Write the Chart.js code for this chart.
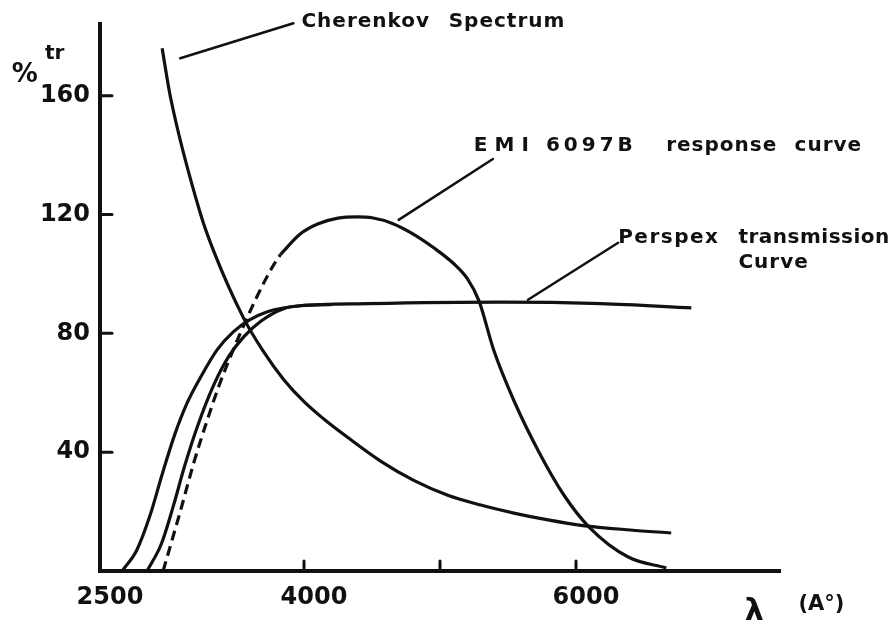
<!DOCTYPE html>
<html>
<head>
<meta charset="utf-8">
<script src="https://cdn.jsdelivr.net/npm/chart.js@4.4.1/dist/chart.umd.min.js"></script>
<style>
  html, body { margin: 0; padding: 0; background: #fff; }
  #wrap { width: 893px; height: 627px; }
</style>
</head>
<body>
<div id="wrap"><canvas id="chart"></canvas></div>
<script>
// wavelength (A) and percent values
const cherenkovX = [2957, 3016, 3237, 3333, 3554, 3700, 3850, 4000, 4150, 4320, 4563, 4807, 5057, 5300, 5543, 5794, 6050, 6400, 6700];
const cherenkovY = [176, 160, 120.5, 108, 85.3, 74, 64.5, 57, 51, 45, 37, 30.5, 25.5, 22.2, 19.5, 17.2, 15.3, 13.8, 12.8];

const perspexX = [2662, 2770, 2870, 2960, 3050, 3140, 3237, 3362, 3480, 3600, 3731, 3974, 4468, 5448, 6185, 6848];
const perspexY = [0, 7, 19, 33, 46, 56.5, 65, 74.5, 80.5, 84.5, 87.3, 89.3, 90, 90.5, 90, 88.6];

const innerX = [2846, 2950, 3040, 3120, 3215, 3340, 3450, 3560, 3680, 3849, 3974, 4200];
const innerY = [0, 9, 22, 35, 48.5, 63, 72.5, 79, 84, 88.3, 89.3, 89.7];

const emiDashX = [2964, 3090, 3190, 3290, 3380, 3480, 3560, 3640, 3710, 3770, 3826];
const emiDashY = [0, 20, 36.5, 51, 63, 74.5, 83, 91, 97.5, 102.5, 106.5];

const emiX = [3826, 3974, 4100, 4250, 4394, 4500, 4650, 4800, 4954, 5100, 5200, 5286, 5396, 5543, 5728, 5912, 6096, 6384, 6664];
const emiY = [106.5, 113.5, 116.8, 118.8, 119.2, 118.9, 117, 113.5, 108.8, 103.5, 98.5, 91, 74.2, 57.4, 40, 25.5, 14.8, 4.7, 1];

const xTicks = [2500, 4000, 5000, 6000];
const xTickLabels = ['2500', '4000', '', '6000'];
const yTicks = [40, 80, 120, 160];

const ink = '#111';

function toPoints(xs, ys) {
  return xs.map((x, i) => ({ x: x, y: ys[i] }));
}

function line(xs, ys, dash) {
  return {
    data: toPoints(xs, ys),
    borderColor: ink,
    borderWidth: 3.2,
    borderDash: dash || [],
    pointRadius: 0,
    fill: false,
    cubicInterpolationMode: 'monotone',
  };
}

// leader lines and hand lettering, placed in data units
const leaders = [
  [3090, 172.6, 3922, 184.4],
  [4696, 118.2, 5389, 138.7],
  [5647, 91.3, 6310, 110.5],
];

const notes = [
  { text: 'Cherenkov', x: 3981, y: 185, size: 20, spacing: 1 },
  { text: 'Spectrum', x: 5064, y: 185, size: 20, spacing: 1 },
  { text: 'EMI', x: 5249, y: 143, size: 20, spacing: 7 },
  { text: '6097B', x: 5779, y: 143, size: 20, spacing: 4 },
  { text: 'response', x: 6663, y: 143, size: 20, spacing: 1 },
  { text: 'curve', x: 7607, y: 143, size: 20, spacing: 1 },
  { text: 'Perspex', x: 6310, y: 112.2, size: 20, spacing: 1.5 },
  { text: 'transmission', x: 7194, y: 112.2, size: 20, spacing: 0.5 },
  { text: 'Curve', x: 7194, y: 103.8, size: 20, spacing: 1 },
  { text: '%', x: 1852, y: 167, size: 26, spacing: 0 },
  { text: 'tr', x: 2095, y: 174, size: 20, spacing: 0 },
  { text: 'λ', x: 7240, y: -13.8, size: 30, spacing: 0 },
  { text: '(A°)', x: 7636, y: -11.4, size: 21, spacing: 0 },
];

const drawings = {
  id: 'drawings',
  afterDraw(chart) {
    const { ctx, chartArea, scales } = chart;
    const xs = scales.x;
    const ys = scales.y;
    ctx.save();
    ctx.strokeStyle = ink;
    ctx.fillStyle = ink;
    ctx.lineCap = 'round';

    // tick marks point into the plot
    ctx.lineWidth = 3;
    xs.ticks.forEach((t) => {
      if (t.value <= xs.min) return;
      const px = xs.getPixelForValue(t.value);
      ctx.beginPath();
      ctx.moveTo(px, chartArea.bottom);
      ctx.lineTo(px, chartArea.bottom - 10);
      ctx.stroke();
    });
    ys.ticks.forEach((t) => {
      const py = ys.getPixelForValue(t.value);
      ctx.beginPath();
      ctx.moveTo(chartArea.left, py);
      ctx.lineTo(chartArea.left + 12, py);
      ctx.stroke();
    });

    ctx.lineWidth = 2.5;
    leaders.forEach((l) => {
      ctx.beginPath();
      ctx.moveTo(xs.getPixelForValue(l[0]), ys.getPixelForValue(l[1]));
      ctx.lineTo(xs.getPixelForValue(l[2]), ys.getPixelForValue(l[3]));
      ctx.stroke();
    });

    ctx.textBaseline = 'middle';
    ctx.textAlign = 'left';
    notes.forEach((n) => {
      ctx.font = 'bold ' + n.size + 'px "DejaVu Sans", sans-serif';
      ctx.letterSpacing = n.spacing + 'px';
      ctx.fillText(n.text, xs.getPixelForValue(n.x), ys.getPixelForValue(n.y));
    });
    ctx.restore();
  },
};

new Chart(document.getElementById('chart'), {
  type: 'line',
  data: {
    datasets: [
      line(cherenkovX, cherenkovY),
      line(perspexX, perspexY),
      line(innerX, innerY),
      line(emiDashX, emiDashY, [10, 6]),
      line(emiX, emiY),
    ],
  },
  options: {
    responsive: true,
    maintainAspectRatio: false,
    animation: false,
    layout: { padding: { top: 22, right: 113, left: 0, bottom: 0 } },
    plugins: { legend: { display: false }, tooltip: { enabled: false } },
    scales: {
      x: {
        type: 'linear',
        min: 2500,
        max: 7500,
        afterBuildTicks: (s) => { s.ticks = xTicks.map((v) => ({ value: v })); },
        afterFit: (s) => { s.height = 56; },
        grid: { display: false, drawTicks: false },
        border: { display: true, color: ink, width: 4 },
        ticks: {
          color: ink,
          padding: 12,
          labelOffset: 10,
          maxRotation: 0,
          font: { family: '"DejaVu Sans", sans-serif', size: 24, weight: 'bold' },
          callback: (v) => xTickLabels[xTicks.indexOf(v)],
        },
      },
      y: {
        min: 0,
        max: 184,
        afterBuildTicks: (s) => { s.ticks = yTicks.map((v) => ({ value: v })); },
        afterFit: (s) => { s.width = 100; },
        grid: { display: false, drawTicks: false },
        border: { display: true, color: ink, width: 4 },
        ticks: {
          color: ink,
          padding: 10,
          font: { family: '"DejaVu Sans", sans-serif', size: 24, weight: 'bold' },
          callback: (v) => String(v),
        },
      },
    },
  },
  plugins: [drawings],
});
</script>
</body>
</html>
